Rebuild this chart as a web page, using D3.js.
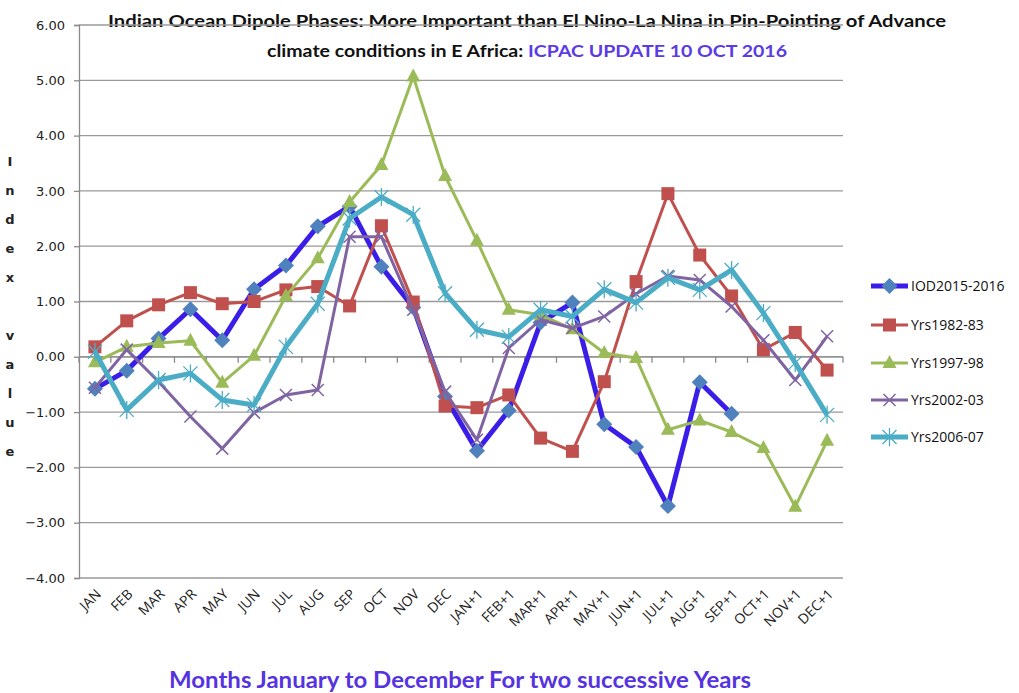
<!DOCTYPE html>
<html><head><meta charset="utf-8">
<script src="https://cdn.jsdelivr.net/npm/d3@7"></script>
<style>body{margin:0;background:#fff}svg{display:block}</style>
</head><body>
<svg id="c" width="1019" height="693"></svg>
<script>
const months = ["JAN","FEB","MAR","APR","MAY","JUN","JUL","AUG","SEP","OCT","NOV","DEC",
  "JAN+1","FEB+1","MAR+1","APR+1","MAY+1","JUN+1","JUL+1","AUG+1","SEP+1","OCT+1","NOV+1","DEC+1"];
const yTicks = [-4,-3,-2,-1,0,1,2,3,4,5,6];
const seriesNames = ["IOD2015-2016","Yrs1982-83","Yrs1997-98","Yrs2002-03","Yrs2006-07"];
const iod2015 = [-0.58,-0.25,0.33,0.86,0.30,1.22,1.65,2.36,2.72,1.63,0.89,-0.72,-1.70,-0.97,0.62,0.98,-1.22,-1.63,-2.70,-0.46,-1.03];
const yrs1982 = [0.18,0.65,0.94,1.16,0.96,1.00,1.21,1.27,0.92,2.37,0.99,-0.89,-0.92,-0.69,-1.47,-1.71,-0.45,1.36,2.95,1.84,1.10,0.13,0.44,-0.24];
const yrs1997 = [-0.10,0.18,0.25,0.29,-0.47,0.02,1.10,1.78,2.80,3.47,5.07,3.27,2.10,0.85,0.76,0.50,0.07,-0.02,-1.32,-1.15,-1.36,-1.65,-2.71,-1.52];
const yrs2002 = [-0.56,0.13,-0.45,-1.08,-1.66,-1.01,-0.69,-0.60,2.17,2.17,0.85,-0.63,-1.50,0.16,0.67,0.52,0.73,1.14,1.46,1.39,0.91,0.30,-0.42,0.37];
const yrs2006 = [0.09,-0.96,-0.42,-0.30,-0.78,-0.87,0.18,0.96,2.50,2.89,2.57,1.15,0.49,0.36,0.85,0.73,1.22,0.98,1.43,1.21,1.57,0.79,-0.11,-1.05];

const seriesData = [iod2015, yrs1982, yrs1997, yrs2002, yrs2006];
const styles = [
  {line:"#3a1ee8", marker:"#4f81bd", w:5, sym:"diamond"},
  {line:"#c0504d", marker:"#c0504d", w:3, sym:"square"},
  {line:"#9bbb59", marker:"#9bbb59", w:3, sym:"triangle"},
  {line:"#8064a2", marker:"#8064a2", w:3, sym:"x"},
  {line:"#4bacc6", marker:"#4bacc6", w:5, sym:"star"}
];

const svg = d3.select("#c");
const L = 79, R = 843, T = 25, B = 578;
const x = d3.scaleBand().domain(months).range([L, R]).padding(0);
const y = d3.scaleLinear().domain([-4, 6]).range([B, T]);
const cx = m => x(m) + x.bandwidth() / 2;

// Title
const t = svg.append("g").attr("font-family","Lato, 'Open Sans', sans-serif").attr("font-weight","bold").attr("fill","#111");
t.append("text").attr("x",108).attr("y",27).attr("font-size",17.5)
  .attr("textLength",838).attr("lengthAdjust","spacingAndGlyphs")
  .text("Indian Ocean Dipole Phases: More Important than El Nino-La Nina in Pin-Pointing of Advance");
const t2 = t.append("text").attr("x",267).attr("y",57).attr("font-size",17.5)
  .attr("textLength",520).attr("lengthAdjust","spacingAndGlyphs");
t2.append("tspan").text("climate conditions in E Africa: ");
t2.append("tspan").attr("fill","#5a3be6").text("ICPAC UPDATE 10 OCT 2016");

// Gridlines
svg.append("g").selectAll("line").data(yTicks).join("line")
  .attr("x1", L).attr("x2", R).attr("y1", d => y(d)).attr("y2", d => y(d))
  .attr("stroke", "#9a9a9a").attr("stroke-width", 1.3);

// Y axis
const yAxis = svg.append("g").attr("transform", `translate(${L},0)`)
  .call(d3.axisLeft(y).tickValues(yTicks).tickFormat(d3.format(".2f")).tickSize(5).tickPadding(5));
yAxis.select(".domain").attr("stroke","#8a8a8a").attr("stroke-width",1.3);
yAxis.selectAll(".tick line").attr("stroke","#8a8a8a").attr("stroke-width",1.3);
yAxis.selectAll(".tick text").attr("font-family","'DejaVu Sans', Verdana, sans-serif").attr("font-size",13).attr("fill","#222")
  .attr("transform","translate(-4,0)");

// X axis at zero with ticks between categories
const edges = months.map(m => x(m)).concat([R]);
svg.append("line").attr("x1",L).attr("x2",R).attr("y1",y(0)).attr("y2",y(0)).attr("stroke","#8a8a8a").attr("stroke-width",1.3);
svg.append("g").selectAll("line").data(edges).join("line")
  .attr("x1", d => d).attr("x2", d => d).attr("y1", y(0)).attr("y2", y(0) + 6)
  .attr("stroke","#8a8a8a").attr("stroke-width",1.3);

// X tick labels at bottom
svg.append("g").selectAll("text").data(months).join("text")
  .attr("transform", d => `translate(${cx(d) + 7},${B + 17}) rotate(-45)`)
  .attr("text-anchor","end")
  .attr("font-family","'Open Sans', sans-serif").attr("font-size",14).attr("fill","#222")
  .text(d => d);

// Y axis label (vertical letters)
const yLetters = ["I","n","d","e","x"," ","v","a","l","u","e"];
svg.append("g").selectAll("text").data(yLetters).join("text")
  .attr("x", 10).attr("y", (d,i) => 166 + i * 29)
  .attr("text-anchor","middle").attr("font-family","'DejaVu Sans', sans-serif")
  .attr("font-weight","bold").attr("font-size",13).attr("fill","#222")
  .text(d => d);

// X axis title
svg.append("text").attr("x",460).attr("y",688).attr("text-anchor","middle")
  .attr("font-family","Lato, 'Open Sans', sans-serif").attr("font-weight","bold").attr("font-size",22)
  .attr("fill","#5533e0").attr("textLength",582).attr("lengthAdjust","spacingAndGlyphs")
  .text("Months January to December For two successive Years");

// Marker drawer
function drawMarker(g, sym, color, px, py) {
  if (sym === "diamond") {
    g.append("path").attr("d", `M${px},${py-8}L${px+8},${py}L${px},${py+8}L${px-8},${py}Z`).attr("fill", color);
  } else if (sym === "square") {
    g.append("rect").attr("x", px-6.5).attr("y", py-6.5).attr("width",13).attr("height",13).attr("fill", color);
  } else if (sym === "triangle") {
    g.append("path").attr("d", `M${px},${py-8}L${px+7},${py+5}L${px-7},${py+5}Z`).attr("fill", color);
  } else if (sym === "x") {
    g.append("path").attr("d", `M${px-6},${py-6}L${px+6},${py+6}M${px-6},${py+6}L${px+6},${py-6}`)
      .attr("stroke", color).attr("stroke-width",1.5).attr("fill","none");
  } else if (sym === "star") {
    g.append("path").attr("d", `M${px-7},${py-7}L${px+7},${py+7}M${px-7},${py+7}L${px+7},${py-7}M${px},${py-9}L${px},${py+9}`)
      .attr("stroke", color).attr("stroke-width",1.3).attr("fill","none");
  }
}

// Series
const lineGen = d3.line().x((d,i) => cx(months[i])).y(d => y(d));
seriesData.forEach((data, k) => {
  const st = styles[k];
  const g = svg.append("g");
  g.append("path").datum(data).attr("d", lineGen).attr("fill","none")
    .attr("stroke", st.line).attr("stroke-width", st.w).attr("stroke-linejoin","round");
  data.forEach((v, i) => drawMarker(g, st.sym, st.marker, cx(months[i]), y(v)));
});

// Legend
const legY = [286, 325, 363, 400, 437];
const lg = svg.append("g");
seriesNames.forEach((name, k) => {
  const st = styles[k];
  const yy = legY[k];
  lg.append("line").attr("x1",871).attr("x2",908).attr("y1",yy).attr("y2",yy)
    .attr("stroke", st.line).attr("stroke-width", st.w);
  drawMarker(lg, st.sym, st.marker, 889.5, yy);
  lg.append("text").attr("x",911).attr("y",yy+5).attr("font-family","'Open Sans', sans-serif")
    .attr("font-size",14).attr("fill","#111").text(name);
});
</script>
</body></html>
